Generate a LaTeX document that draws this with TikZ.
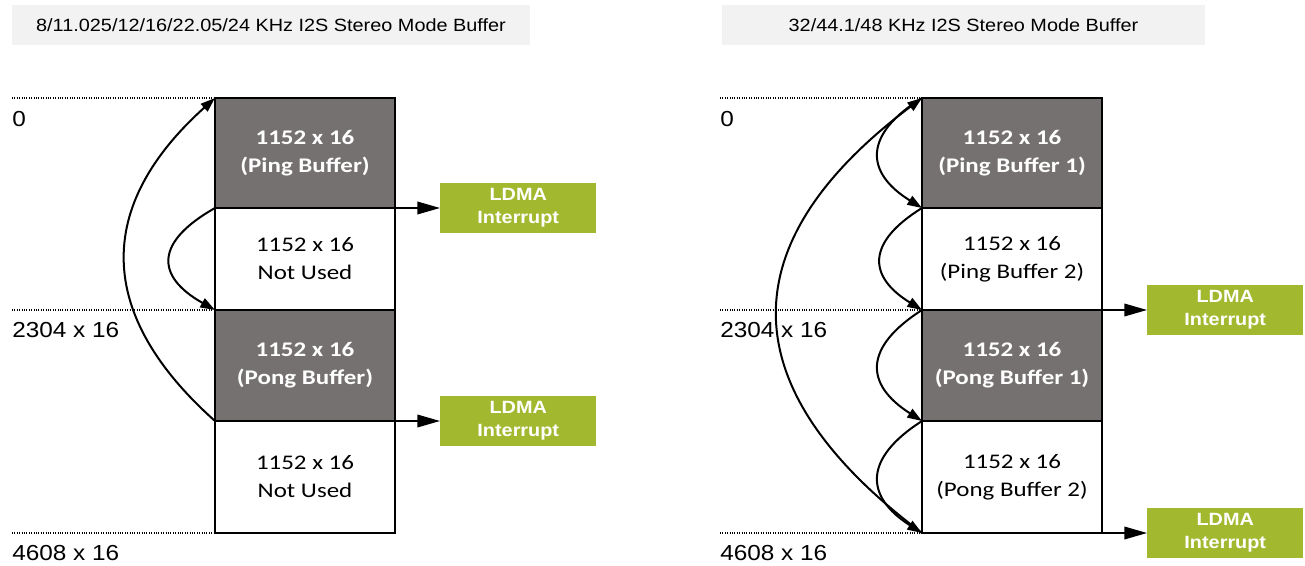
\documentclass[tikz,border=0pt]{standalone}
\usepackage{fontspec}
\setmainfont{Liberation Sans}[FakeStretch=1.12]
\newfontfamily\calfont{Carlito}[FakeStretch=1.2]
\usepackage{tikz}
\usetikzlibrary{arrows.meta,positioning}
\definecolor{bufgray}{HTML}{767171}
\definecolor{ldmagreen}{HTML}{A2B92F}
\definecolor{hdrgray}{HTML}{F2F2F2}

\begin{document}
\begin{tikzpicture}[
    x=0.75pt,y=-0.75pt,
    hdr/.style={rectangle,fill=hdrgray,minimum width=388.5pt,minimum height=30pt,
                inner sep=0pt,font=\fontsize{13.3}{16}\selectfont},
    freecell/.style={rectangle,draw=black,line width=1.1pt,minimum width=135pt,
                     inner sep=0pt,outer sep=0pt,align=center,
                     font=\calfont\fontsize{15.6}{21}\selectfont},
    usedcell/.style={freecell,fill=bufgray,text=white,
                     font=\calfont\bfseries\fontsize{15.6}{21}\selectfont},
    ldma/.style={rectangle,fill=ldmagreen,text=white,minimum width=117pt,
                 minimum height=37.5pt,inner sep=0pt,align=center,
                 font=\bfseries\fontsize{13.3}{17.25}\selectfont},
    addr/.style={anchor=west,inner sep=0pt,font=\fontsize{16.3}{19}\selectfont},
    guide/.style={densely dotted,line width=0.8pt},
    loopfl/.style={-{Triangle[length=11pt,width=7.5pt]},line width=1.5pt},
    irq/.style={-{Triangle[length=17pt,width=9.5pt]},line width=1.1pt},
]
\useasboundingbox (0,0) rectangle (1305,566);

% left buffer
\node[hdr] (lhdr) at (271,25) {8/11.025/12/16/22.05/24 KHz I2S Stereo Mode Buffer};
\node[usedcell,minimum height=82.5pt,anchor=north west] (lping) at (215,98) {1152 x 16\\(Ping Buffer)};
\node[freecell,minimum height=76.5pt,below=0pt of lping] (lfree1) {1152 x 16\\Not Used};
\node[usedcell,minimum height=83.25pt,below=0pt of lfree1] (lpong) {1152 x 16\\(Pong Buffer)};
\node[freecell,minimum height=84pt,below=0pt of lpong] (lfree2) {1152 x 16\\Not Used};

\node[addr] (l0) at (12,119) {0};
\node[addr] (l2304) at (12,330) {2304 x 16};
\node[addr] (l4608) at (12,553) {4608 x 16};
\draw[guide] (l0.west |- lping.north west) -- (lping.north west);
\draw[guide] (l2304.west |- lpong.north west) -- (lpong.north west);
\draw[guide] (l4608.west |- lfree2.south west) -- (lfree2.south west);

\node[ldma,right=33.75pt of lping.south east] (lirq1) {LDMA\\Interrupt};
\node[ldma,right=33.75pt of lpong.south east] (lirq2) {LDMA\\Interrupt};
\draw[irq] (lping.south east) -- (lirq1);
\draw[irq] (lpong.south east) -- (lirq2);

\draw[loopfl] (lfree1.north west) .. controls +(-60,34) and +(-60,-34) .. (lfree1.south west);
\draw[loopfl] (lpong.south west) .. controls +(-120,-107) and +(-120,108) .. (lping.north west);

% right buffer
\node[hdr,minimum width=362pt] (rhdr) at (963.5,25) {32/44.1/48 KHz I2S Stereo Mode Buffer};
\node[usedcell,minimum height=82.5pt,anchor=north west] (rping1) at (922,98) {1152 x 16\\(Ping Buffer 1)};
\node[freecell,minimum height=76.5pt,below=0pt of rping1] (rping2) {1152 x 16\\(Ping Buffer 2)};
\node[usedcell,minimum height=83.25pt,below=0pt of rping2] (rpong1) {1152 x 16\\(Pong Buffer 1)};
\node[freecell,minimum height=84pt,below=0pt of rpong1] (rpong2) {1152 x 16\\(Pong Buffer 2)};

\node[addr] (r0) at (720,119) {0};
\node[addr] (r2304) at (720,330) {2304 x 16};
\node[addr] (r4608) at (720,553) {4608 x 16};
\draw[guide] (r0.west |- rping1.north west) -- (rping1.north west);
\draw[guide] (r2304.west |- rpong1.north west) -- (rpong1.north west);
\draw[guide] (r4608.west |- rpong2.south west) -- (rpong2.south west);

\node[ldma,right=33.75pt of rping2.south east] (rirq1) {LDMA\\Interrupt};
\node[ldma,right=33.75pt of rpong2.south east] (rirq2) {LDMA\\Interrupt};
\draw[irq] (rping2.south east) -- (rirq1);
\draw[irq] (rpong2.south east) -- (rirq2);

\draw[loopfl] (rping1.north west) .. controls +(-58,36) and +(-58,-36) .. (rping1.south west);
\draw[loopfl] (rping2.north west) .. controls +(-55,34) and +(-55,-34) .. (rping2.south west);
\draw[loopfl] (rpong1.north west) .. controls +(-58,37) and +(-58,-37) .. (rpong1.south west);
\draw[loopfl] (rpong2.north west) .. controls +(-58,37) and +(-58,-37) .. (rpong2.south west);
\draw[loopfl] (rpong2.south west) .. controls +(-193,-145) and +(-193,145) .. (rping1.north west);

\end{tikzpicture}
\end{document}
